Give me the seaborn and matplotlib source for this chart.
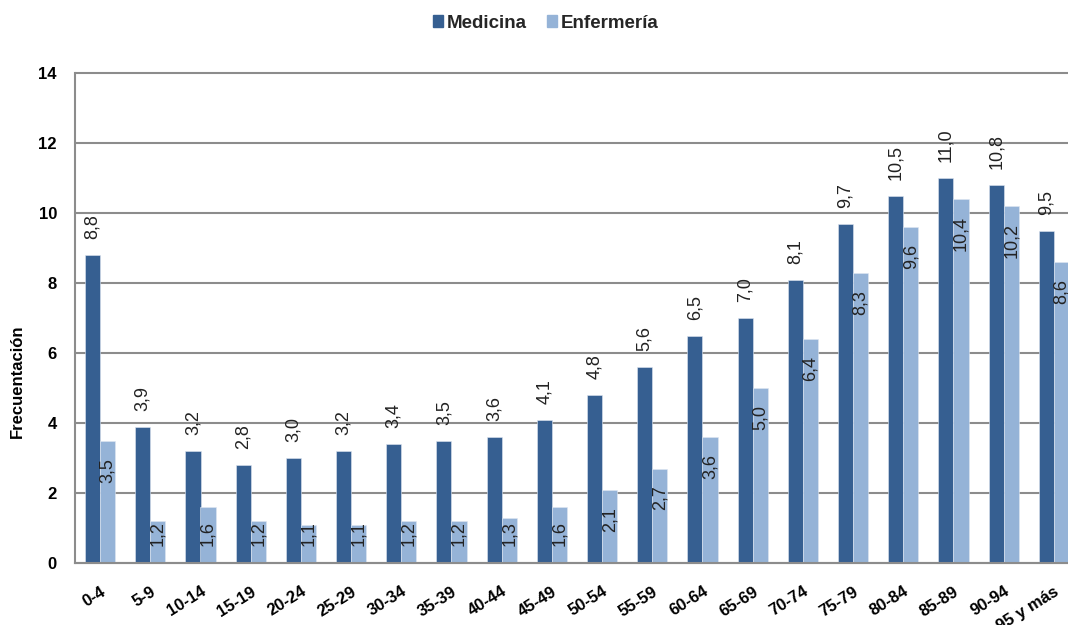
import pandas as pd
import numpy as np
import seaborn as sns
import matplotlib.pyplot as plt

# age groups and rates
grupos = ["0-4", "5-9", "10-14", "15-19", "20-24", "25-29", "30-34", "35-39",
          "40-44", "45-49", "50-54", "55-59", "60-64", "65-69", "70-74", "75-79",
          "80-84", "85-89", "90-94", "95 y más"]
medicina = [8.8, 3.9, 3.2, 2.8, 3.0, 3.2, 3.4, 3.5, 3.6, 4.1,
            4.8, 5.6, 6.5, 7.0, 8.1, 9.7, 10.5, 11.0, 10.8, 9.5]
enfermeria = [3.5, 1.2, 1.6, 1.2, 1.1, 1.1, 1.2, 1.2, 1.3, 1.6,
              2.1, 2.7, 3.6, 5.0, 6.4, 8.3, 9.6, 10.4, 10.2, 8.6]

df = pd.DataFrame({
    "grupo": grupos * 2,
    "valor": medicina + enfermeria,
    "serie": ["Medicina"] * len(grupos) + ["Enfermería"] * len(grupos),
})

sns.set_style("white")
plt.rcParams['font.family'] = ['Liberation Sans', 'DejaVu Sans']

fig = plt.figure(figsize=(10.68, 6.25), dpi=100)
ax = fig.add_axes([75 / 1068, 1 - 563 / 625, 1004 / 1068, 490 / 625])

colores = {"Medicina": "#365F91", "Enfermería": "#95B3D7"}
sns.barplot(data=df, x="grupo", y="valor", hue="serie", palette=colores,
            width=0.6, saturation=1, edgecolor="#dfe7f2", linewidth=0.4,
            ax=ax, legend=True)

ax.set_ylim(0, 14)
ax.set_xlim(-0.5, len(grupos) - 0.5)
ax.set_yticks(np.arange(0, 15, 2))
ax.yaxis.grid(True, color="#8c8c8c", linewidth=1.5)
ax.set_axisbelow(True)
for gl in ax.get_ygridlines():
    gl.set_clip_on(False)

for s in ["top", "right"]:
    ax.spines[s].set_visible(False)
for s in ["left", "bottom"]:
    ax.spines[s].set_color("#8c8c8c")
    ax.spines[s].set_linewidth(1.5)

ax.tick_params(axis="y", length=0, pad=13, labelsize=12, labelcolor="black")
ax.tick_params(axis="x", length=0, pad=15, labelsize=12, labelcolor="black")
for t in ax.get_yticklabels():
    t.set_fontweight("bold")
for t in ax.get_xticklabels():
    t.set_fontweight("bold")
    t.set_rotation(32)
    t.set_ha("right")
    t.set_rotation_mode("anchor")

ax.set_xlabel("")
ax.set_ylabel("Frecuentación", fontsize=12, fontweight="bold", color="black")
ax.yaxis.set_label_coords(-0.050, 0.37)

# value labels
def fmt(v):
    return f"{v:.1f}".replace(".", ",")

cont_med, cont_enf = ax.containers[0], ax.containers[1]
for bar, v in zip(cont_med, medicina):
    xc = bar.get_x() + bar.get_width() / 2
    ax.text(xc, v + 0.45, fmt(v), rotation=90, ha="center", va="bottom",
            fontsize=13, color="#222222", clip_on=False)
for bar, v in zip(cont_enf, enfermeria):
    xc = bar.get_x() + bar.get_width() / 2
    ax.text(xc, max(v - 0.49, 1.2), fmt(v), rotation=90, ha="center", va="top",
            fontsize=13, color="#222222", clip_on=False)

ax.get_legend().remove()
handles = [plt.Rectangle((0, 0), 1, 1, color=colores[k]) for k in ["Medicina", "Enfermería"]]
fig.legend(handles, ["Medicina", "Enfermería"], loc="center",
           bbox_to_anchor=(0.511, 0.963), ncol=2, frameon=False,
           handlelength=0.55, handleheight=0.55, handletextpad=0.2,
           columnspacing=1.05, prop={"weight": "bold", "size": 13.5})

plt.savefig("out.png", dpi=100)
plt.close()
